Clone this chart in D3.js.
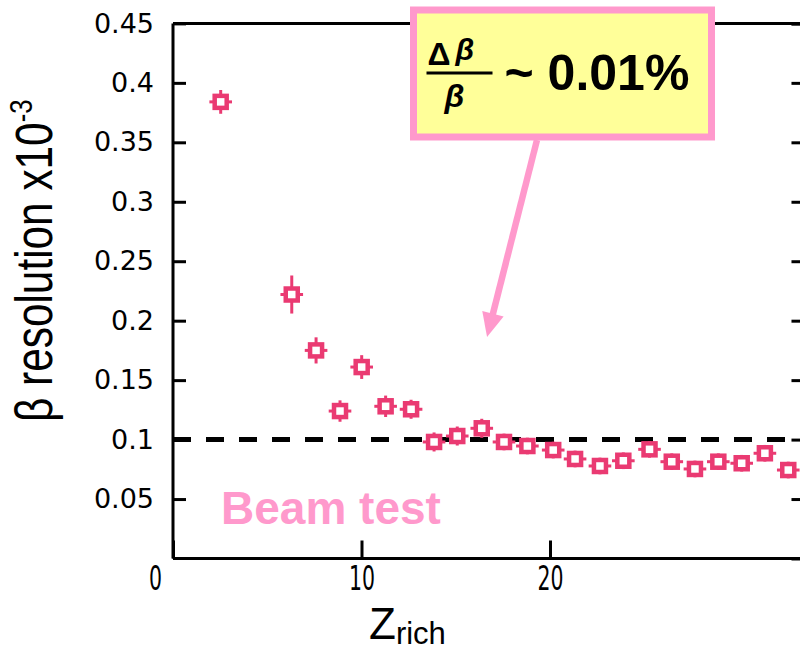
<!DOCTYPE html>
<html>
<head>
<meta charset="utf-8">
<script src="https://cdn.jsdelivr.net/npm/d3@7"></script>
<style>
  html, body { margin: 0; padding: 0; background: #fff; }
  svg { display: block; }
</style>
</head>
<body>
<svg id="chart" width="800" height="656"></svg>
<script>
// ---- data ----
const zValues   = [2.53, 6.30, 7.59, 8.86, 10.01, 11.28, 12.63, 13.85, 15.08, 16.38, 17.56, 18.80,
                   20.17, 21.33, 22.65, 23.89, 25.28, 26.46, 27.69, 28.93, 30.17, 31.40, 32.64];
const resValues = [0.384, 0.222, 0.175, 0.124, 0.161, 0.128, 0.1255, 0.098, 0.103, 0.1095, 0.098, 0.0946,
                   0.0912, 0.0837, 0.0778, 0.0822, 0.0918, 0.0814, 0.0753, 0.0814, 0.0801, 0.0885, 0.0744];
const resErr    = [0.010, 0.016, 0.011, 0.009, 0.010, 0.009, 0.008, 0.008, 0.008, 0.008, 0.007, 0.007,
                   0.007, 0.007, 0.007, 0.007, 0.007, 0.007, 0.007, 0.007, 0.007, 0.007, 0.007];
const zErr      = [0.6, 0.6, 0.6, 0.6, 0.6, 0.6, 0.6, 0.6, 0.6, 0.6, 0.6, 0.6,
                   0.6, 0.6, 0.6, 0.6, 0.6, 0.6, 0.6, 0.6, 0.6, 0.6, 0.6];
const xTickValues = [0, 10, 20];
const xTickLabels = ["0", "10", "20"];
const yTickValues = [0.05, 0.1, 0.15, 0.2, 0.25, 0.3, 0.35, 0.4, 0.45];
const yTickLabels = ["0.05", "0.1", "0.15", "0.2", "0.25", "0.3", "0.35", "0.4", "0.45"];
const referenceLevel = 0.1;
const annotationText = "~ 0.01%";
const beamLabel = "Beam test";

// ---- layout ----
const svg = d3.select("#chart");
const x = d3.scaleLinear().domain([0, 33.5]).range([173, 173 + 33.5 * 18.85]);
const y = d3.scaleLinear().domain([0, 0.45]).range([558.5, 23.4]);
const markColor = "#ea3a72";
const pink = "#ff99cc";

// dashed reference line
svg.append("line")
  .attr("x1", x(0)).attr("x2", 800)
  .attr("y1", y(referenceLevel)).attr("y2", y(referenceLevel))
  .attr("stroke", "#000").attr("stroke-width", 5)
  .attr("stroke-dasharray", "18,15");

// frame: top line and right axis
svg.append("line")
  .attr("x1", x(0)).attr("x2", 800).attr("y1", y(0.45)).attr("y2", y(0.45))
  .attr("stroke", "#000").attr("stroke-width", 3);

const yAxisRight = d3.axisLeft(y).tickValues(yTickValues).tickSize(13).tickFormat("");
svg.append("g").attr("transform", `translate(${x(33.5)},0)`).call(yAxisRight)
  .call(g => g.select(".domain").attr("stroke-width", 3))
  .call(g => g.selectAll(".tick line").attr("stroke-width", 3));

// left y axis (ticks inward)
const yAxis = d3.axisRight(y).tickValues(yTickValues).tickSize(13)
  .tickFormat((d, i) => yTickLabels[i]);
svg.append("g").attr("transform", `translate(${x(0)},0)`).call(yAxis)
  .call(g => g.select(".domain").attr("stroke-width", 3).attr("d", `M0,${y(0)}V${y(0.45)}`))
  .call(g => g.selectAll(".tick line").attr("stroke-width", 3))
  .call(g => g.selectAll(".tick text")
      .attr("x", -19).attr("text-anchor", "end")
      .attr("font-family", "DejaVu Sans").attr("font-size", 27).attr("fill", "#000"));

// bottom x axis (ticks inward)
const xAxis = d3.axisTop(x).tickValues(xTickValues).tickSize(18)
  .tickFormat((d, i) => xTickLabels[i]);
svg.append("g").attr("transform", `translate(0,${y(0)})`).call(xAxis)
  .call(g => g.select(".domain").attr("stroke-width", 3).attr("d", `M${x(0)},0H800`))
  .call(g => g.selectAll(".tick line").attr("stroke-width", 3))
  .call(g => g.selectAll(".tick text")
      .attr("y", 32).attr("dy", 0)
      .attr("font-family", "DejaVu Sans").attr("font-size", 33).attr("fill", "#000")
      .attr("transform", d => d === 0 ? "translate(-18,0) scale(0.62,1)" : "scale(0.62,1)"));

// axis titles
const yTitle = svg.append("text")
  .attr("transform", "translate(52,422) rotate(-90) scale(0.83,1)")
  .attr("font-family", "Liberation Sans, Arial, sans-serif")
  .attr("font-size", 51).attr("fill", "#000");
yTitle.append("tspan").text("β resolution x10");
yTitle.append("tspan").attr("font-size", 31).attr("dy", -20).text("-3");

const xTitle = svg.append("text")
  .attr("x", 369).attr("y", 639)
  .attr("font-family", "Liberation Sans, Arial, sans-serif")
  .attr("fill", "#000");
xTitle.append("tspan").attr("font-size", 44).text("Z");
xTitle.append("tspan").attr("font-size", 31).attr("dy", 5).text("rich");

// beam test label
svg.append("text")
  .attr("x", 221).attr("y", 524)
  .attr("font-family", "Liberation Sans, Arial, sans-serif")
  .attr("font-weight", "bold").attr("font-size", 46)
  .attr("fill", pink).text(beamLabel);

// data points with error bars
const pts = zValues.map((z, i) => ({z, r: resValues[i], er: resErr[i], ez: zErr[i]}));
const pg = svg.append("g").selectAll("g").data(pts).join("g");
pg.append("line")
  .attr("x1", d => x(d.z)).attr("x2", d => x(d.z))
  .attr("y1", d => y(d.r - d.er)).attr("y2", d => y(d.r + d.er))
  .attr("stroke", markColor).attr("stroke-width", 3);
pg.append("line")
  .attr("x1", d => x(d.z - d.ez)).attr("x2", d => x(d.z + d.ez))
  .attr("y1", d => y(d.r)).attr("y2", d => y(d.r))
  .attr("stroke", markColor).attr("stroke-width", 3);
pg.append("rect")
  .attr("x", d => x(d.z) - 6).attr("y", d => y(d.r) - 6)
  .attr("width", 12).attr("height", 12)
  .attr("fill", "#fff").attr("stroke", markColor).attr("stroke-width", 4.5);

// annotation arrow (positioned in data units)
const arrowStart = [19.31, 0.352], arrowTip = [16.66, 0.1863];
const sx = x(arrowStart[0]), sy = y(arrowStart[1]);
const tx = x(arrowTip[0]), ty = y(arrowTip[1]);
const len = Math.hypot(tx - sx, ty - sy);
const ux = (tx - sx) / len, uy = (ty - sy) / len;
const bx = tx - 24 * ux, by = ty - 24 * uy;
svg.append("line")
  .attr("x1", sx).attr("y1", sy).attr("x2", bx + 2 * ux).attr("y2", by + 2 * uy)
  .attr("stroke", pink).attr("stroke-width", 6.5);
svg.append("polygon")
  .attr("points", [[tx, ty], [bx - 11 * uy, by + 11 * ux], [bx + 11 * uy, by - 11 * ux]].map(p => p.join(",")).join(" "))
  .attr("fill", pink);

// annotation box
const bx0 = 413.5, by0 = 10, bw = 298, bh = 127;
svg.append("rect")
  .attr("x", bx0).attr("y", by0).attr("width", bw).attr("height", bh)
  .attr("fill", "#ffff99").attr("stroke", pink).attr("stroke-width", 7);
const ann = svg.append("g").attr("font-family", "Liberation Sans, Arial, sans-serif")
  .attr("font-weight", "bold").attr("fill", "#000");
ann.append("text").attr("x", bx0 + 14).attr("y", by0 + 55).attr("font-size", 32).text("Δ");
ann.append("text").attr("x", bx0 + 42).attr("y", by0 + 50).attr("font-size", 30)
  .attr("font-style", "italic").text("β");
ann.append("line").attr("x1", bx0 + 13).attr("x2", bx0 + 79)
  .attr("y1", by0 + 63).attr("y2", by0 + 63).attr("stroke", "#000").attr("stroke-width", 3);
ann.append("text").attr("x", bx0 + 31).attr("y", by0 + 97).attr("font-size", 32)
  .attr("font-style", "italic").text("β");
ann.append("text").attr("x", bx0 + 91).attr("y", by0 + 80).attr("font-size", 50)
  .text(annotationText);
</script>
</body>
</html>
